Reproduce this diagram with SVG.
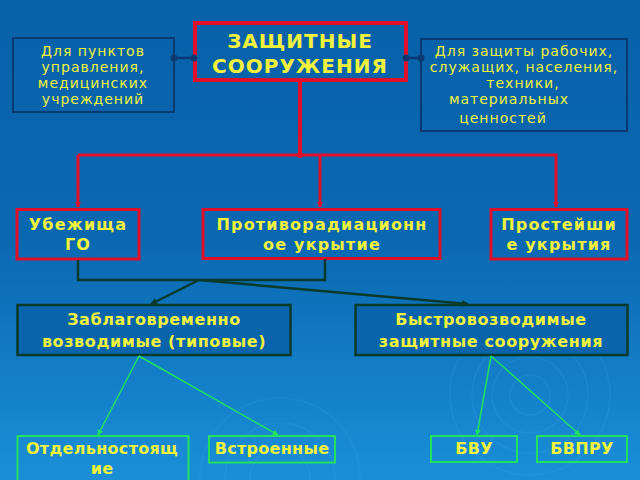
<svg xmlns="http://www.w3.org/2000/svg" width="640" height="480" viewBox="0 0 640 480">
<defs>
<linearGradient id="bg" x1="0" y1="0" x2="0" y2="1">
<stop offset="0" stop-color="#0861a9"/>
<stop offset="0.5" stop-color="#0a68b1"/>
<stop offset="1" stop-color="#1a8fd8"/>
</linearGradient>
<marker id="ar" viewBox="0 0 8 8" refX="7" refY="4" markerWidth="6" markerHeight="6" orient="auto" markerUnits="userSpaceOnUse">
<path d="M0,0 L8,4 L0,8 z" fill="#e0102a"/>
</marker>
<marker id="ak" viewBox="0 0 8 8" refX="7" refY="4" markerWidth="7" markerHeight="7" orient="auto" markerUnits="userSpaceOnUse">
<path d="M0,0 L8,4 L0,8 z" fill="#0a3a2a"/>
</marker>
<marker id="ag" viewBox="0 0 8 8" refX="7" refY="4" markerWidth="6" markerHeight="6" orient="auto" markerUnits="userSpaceOnUse">
<path d="M0,0 L8,4 L0,8 z" fill="#22e060"/>
</marker>
</defs>
<style>
text{font-family:"DejaVu Sans","Noto Sans",sans-serif;fill:#f0f23c;text-anchor:middle}
.t{font-size:20px;font-weight:bold;letter-spacing:1px}
.s{font-size:14px;letter-spacing:1px}
.b{font-size:16px;font-weight:bold;letter-spacing:1.2px}
.c{font-size:16px;font-weight:bold;letter-spacing:0.6px}
.d{font-size:16px;font-weight:bold;letter-spacing:0.3px}
.red{fill:none;stroke:#e0102a}
.nav{fill:none;stroke:#0a3a72;stroke-width:2}
.dk{fill:#0a64ac;stroke:#0a3a2a;stroke-width:2.5}
.gr{fill:none;stroke:#22e060;stroke-width:2}
.rip{fill:none;stroke:#6fc0ff;stroke-opacity:0.1;stroke-width:1.5}
</style>
<rect width="640" height="480" fill="url(#bg)"/>
<g id="ripples">
<circle class="rip" cx="530" cy="395" r="20"/>
<circle class="rip" cx="530" cy="395" r="38"/>
<circle class="rip" cx="530" cy="395" r="58"/>
<circle class="rip" cx="530" cy="395" r="80"/>
<circle class="rip" cx="280" cy="478" r="30"/>
<circle class="rip" cx="280" cy="478" r="55"/>
<circle class="rip" cx="280" cy="478" r="80"/>
</g>
<g id="main">
<rect x="195" y="23" width="211" height="57" class="red" stroke-width="4"/>
<text class="t" x="300" y="48">ЗАЩИТНЫЕ</text>
<text class="t" x="300" y="73">СООРУЖЕНИЯ</text>
</g>
<g id="left-note">
<rect x="13" y="38" width="161" height="74" class="nav"/>
<text class="s" x="93" y="56">Для пунктов</text>
<text class="s" x="93" y="72">управления,</text>
<text class="s" x="93" y="88">медицинских</text>
<text class="s" x="93" y="104">учреждений</text>
</g>
<g id="right-note">
<rect x="421" y="39" width="206" height="92" class="nav"/>
<text class="s" x="524" y="56">Для защиты рабочих,</text>
<text class="s" x="524" y="72">служащих, населения,</text>
<text class="s" x="523" y="88">техники,</text>
<text class="s" x="509" y="104">материальных</text>
<text class="s" x="503" y="123">ценностей</text>
</g>
<g id="ubezhishcha">
<rect x="17" y="209.5" width="122" height="49.5" class="red" stroke-width="3"/>
<text class="b" x="78" y="230">Убежища</text>
<text class="b" x="78" y="250">ГО</text>
</g>
<g id="pru">
<rect x="203" y="209.5" width="237" height="49" class="red" stroke-width="3"/>
<text class="b" x="322" y="230">Противорадиационн</text>
<text class="b" x="322" y="250">ое укрытие</text>
</g>
<g id="prosteishie">
<rect x="491" y="209.5" width="136" height="49.5" class="red" stroke-width="3"/>
<text class="b" x="559" y="230">Простейши</text>
<text class="b" x="559" y="250">е укрытия</text>
</g>
<g id="zablagovremenno">
<rect x="17.5" y="305" width="273" height="50" class="dk"/>
<text class="c" x="154" y="325">Заблаговременно</text>
<text class="c" x="154" y="347">возводимые (типовые)</text>
</g>
<g id="bystrovozvodimye">
<rect x="355.5" y="305" width="272" height="50" class="dk"/>
<text class="c" x="491" y="325">Быстровозводимые</text>
<text class="c" x="491" y="347">защитные сооружения</text>
</g>
<g id="otdelno">
<rect x="17.5" y="436" width="171" height="50" class="gr"/>
<text class="d" x="102" y="454">Отдельностоящ</text>
<text class="d" x="102" y="474">ие</text>
</g>
<g id="vstroennye">
<rect x="209" y="436" width="126" height="26.5" class="gr"/>
<text class="d" x="272" y="454">Встроенные</text>
</g>
<g id="bvu">
<rect x="431" y="436" width="86" height="26" class="gr"/>
<text class="d" x="474" y="454">БВУ</text>
</g>
<g id="bvpru">
<rect x="537" y="436" width="90" height="26" class="gr"/>
<text class="d" x="582" y="454">БВПРУ</text>
</g>
<g id="connectors">
<line x1="174" y1="58" x2="194" y2="58" stroke="#0a3a72" stroke-width="2.5"/>
<circle cx="174" cy="58" r="3.5" fill="#0a3a72"/>
<circle cx="194" cy="58" r="3.5" fill="#0a3a72"/>
<line x1="406" y1="58" x2="421" y2="58" stroke="#0a3a72" stroke-width="2.5"/>
<circle cx="406" cy="58" r="3.5" fill="#0a3a72"/>
<circle cx="421" cy="58" r="3.5" fill="#0a3a72"/>
<line x1="300" y1="82" x2="300" y2="155" class="red" stroke-width="4"/>
<circle cx="300" cy="155" r="3" fill="#e0102a"/>
<polyline points="78,155 556,155 556,207" class="red" stroke-width="3" marker-end="url(#ar)"/>
<line x1="78" y1="155" x2="78" y2="207" class="red" stroke-width="3" marker-end="url(#ar)"/>
<line x1="320" y1="155" x2="320" y2="207" class="red" stroke-width="3" marker-end="url(#ar)"/>
<polyline points="78,260 78,280 325,280 325,259" fill="none" stroke="#0a3a2a" stroke-width="2.5"/>
<line x1="199" y1="280" x2="151" y2="304" stroke="#0a3a2a" stroke-width="2.5" marker-end="url(#ak)"/>
<line x1="199" y1="280" x2="468" y2="304" stroke="#0a3a2a" stroke-width="2.5" marker-end="url(#ak)"/>
<line x1="139" y1="356" x2="98" y2="435" stroke="#22e060" stroke-width="1.5" marker-end="url(#ag)"/>
<line x1="139" y1="356" x2="278" y2="435" stroke="#22e060" stroke-width="1.5" marker-end="url(#ag)"/>
<line x1="491" y1="356" x2="477" y2="435" stroke="#22e060" stroke-width="1.5" marker-end="url(#ag)"/>
<line x1="491" y1="356" x2="580" y2="435" stroke="#22e060" stroke-width="1.5" marker-end="url(#ag)"/>
</g>
</svg>
